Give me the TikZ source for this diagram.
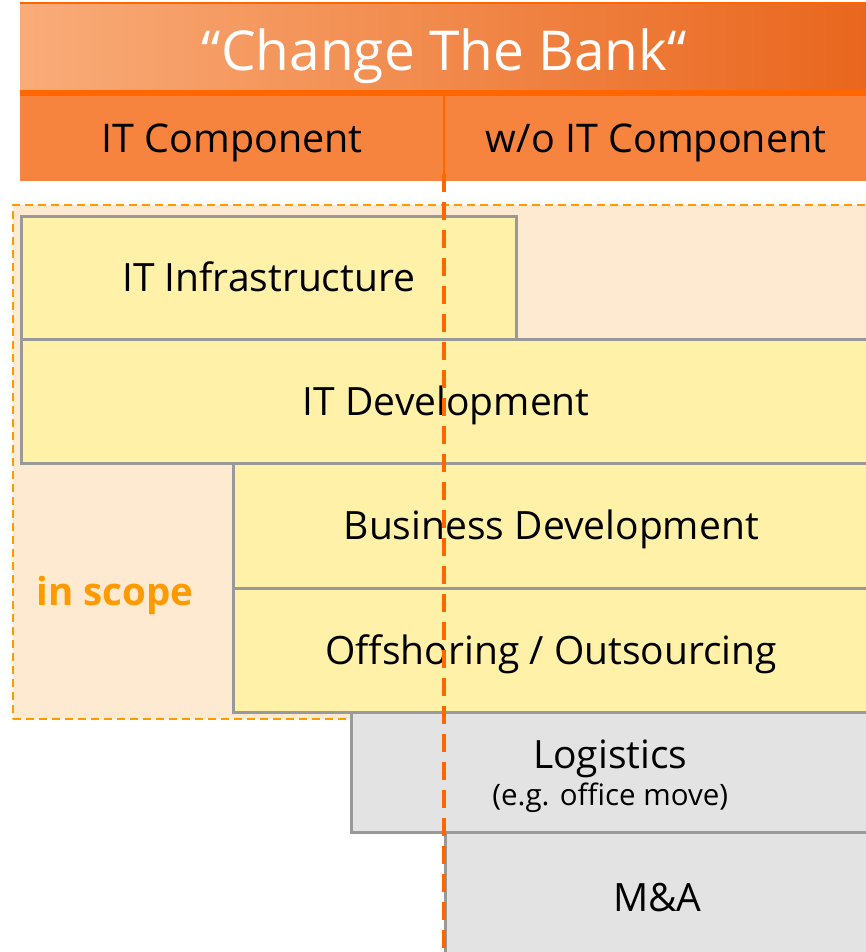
\documentclass[tikz,border=0pt]{standalone}
\usepackage{fontspec}
\setmainfont{Open Sans}
\definecolor{titolosx}{HTML}{F9AC79}
\definecolor{titolodx}{HTML}{E9661D}
\definecolor{arancio}{HTML}{F6843F}
\definecolor{linea}{HTML}{FF6600}
\definecolor{scopefill}{HTML}{FDEAD0}
\definecolor{scopeline}{HTML}{FF9A00}
\definecolor{giallo}{HTML}{FFF2A8}
\definecolor{bordo}{HTML}{999999}
\definecolor{grigio}{HTML}{E3E3E3}
\begin{document}
\begin{tikzpicture}[x=1pt, y=-1pt,
		box/.style={draw=bordo, line width=2.5pt, inner sep=0pt, anchor=north west,
			font=\fontsize{39}{42}\selectfont, text height=28pt, text depth=0pt},
		yellowbox/.style={box, fill=giallo},
		graybox/.style={box, fill=grigio},
		header/.style={inner sep=0pt, anchor=north west, fill=arancio,
			font=\fontsize{39.5}{42}\selectfont, text height=28pt, text depth=0pt}]
	% Definizioni per le posizioni
	\def\Xmezzo{444}
	\def\Xfine{868}
	
	\useasboundingbox (0,0) rectangle (866,952);
	\clip (0,0) rectangle (866,952);
	
	% --- Intestazione ---
	\node[inner sep=0pt, anchor=north west, left color=titolosx, right color=titolodx,
		minimum width=848, minimum height=88, text=white, text height=46pt, text depth=0pt,
		font=\fontsize{55}{58}\selectfont] (title) at (20,3) {“Change The Bank“};
	\draw[linea, line width=1.5pt] (title.north west) -- (title.north east);
	\node[header, minimum width=424, minimum height=85] (itcomp) at (20,96) {IT Component};
	\node[header, minimum width=424, minimum height=85] (woitcomp) at (\Xmezzo,96) {w/o IT Component};
	\draw[linea, line width=6pt] ([yshift=3pt]itcomp.north west) -- ([yshift=3pt]woitcomp.north east);
	
	% --- Area in scope ---
	\node[draw=scopeline, fill=scopefill, dashed, dash pattern=on 8pt off 5pt, line width=2pt,
		anchor=north west, minimum width=858, minimum height=514] (scope) at (12,204) {};
	\node[text=scopeline, font=\fontsize{38.5}{40}\selectfont\bfseries] (scopelabel) at (115,595) {in scope};
	
	% --- Blocchi ---
	\node[yellowbox, minimum width=495, minimum height=123] (infra) at (20,215) {IT Infrastructure};
	\node[yellowbox, minimum width=850, minimum height=124] (itdev) at (20,338) {IT Development};
	\node[yellowbox, minimum width=636, minimum height=125] (busdev) at (232,462) {Business Development};
	\node[yellowbox, minimum width=636, minimum height=124] (offshore) at (232,587) {Offshoring / Outsourcing};
	\node[graybox, minimum width=518, minimum height=120, align=center, text height=] (logistics) at (350,711)
	{Logistics\\[-5pt]{\fontsize{29.5}{32}\selectfont (e.g. office move)}};
	\node[graybox, minimum width=424, minimum height=130] (mna) at (\Xmezzo,831) {M\&A};
	
	% --- Linea di separazione ---
	\draw[linea, line width=1.5pt] (\Xmezzo,96) -- (\Xmezzo,181);
	\draw[linea, line width=4pt, dash pattern=on 18pt off 10pt] (\Xmezzo,174) -- (\Xmezzo,952);
\end{tikzpicture}
\end{document}
